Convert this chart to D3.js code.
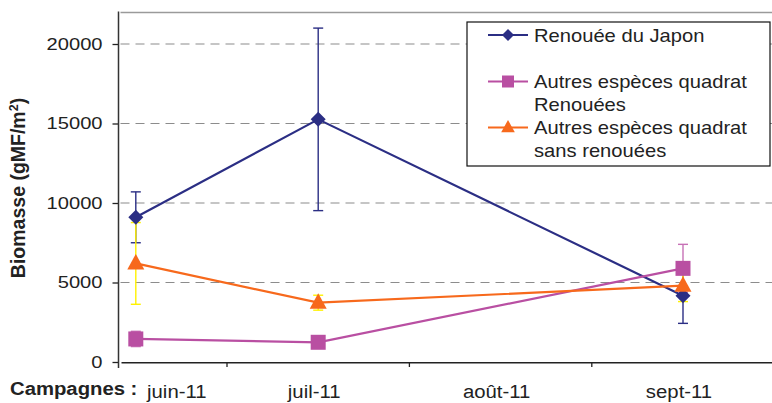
<!DOCTYPE html>
<html>
<head>
<meta charset="utf-8">
<script src="https://cdn.jsdelivr.net/npm/d3@7/dist/d3.min.js"></script>
<style>
  html, body { margin: 0; padding: 0; background: #fff; }
  svg { display: block; font-family: "Liberation Sans", Arial, sans-serif; }
</style>
</head>
<body>
<svg id="chart" width="772" height="403"></svg>
<script>
// Campaign months
const categories = ["juin-11", "juil-11", "août-11", "sept-11"];

// Biomass (gMF/m²) per campaign; null = no sampling that month
const renoueeJapon     = [9100, 15260, null, 4170];
const renoueeJaponErr  = [1600, 5740, null, 1740];
const autresRenouees    = [1450, 1240, null, 5890];
const autresRenoueesErr = [480, 300, null, 1510];
const autresSans        = [6200, 3730, null, 4800];
const autresSansErr     = [2570, 470, null, 1000];

const yTicks = [0, 5000, 10000, 15000, 20000];

const series = [
  { name: ["Renouée du Japon"], values: renoueeJapon, errors: renoueeJaponErr,
    color: "#2B2E84", errColor: "#2B2E84", marker: "diamond" },
  { name: ["Autres espèces quadrat", "Renouées"], values: autresRenouees, errors: autresRenoueesErr,
    color: "#B94FA2", errColor: "#C771B6", marker: "square" },
  { name: ["Autres espèces quadrat", "sans renouées"], values: autresSans, errors: autresSansErr,
    color: "#F7691C", errColor: "#FFF200", marker: "triangle" }
];

const svg = d3.select("#chart");

// Layout
const axisX = 118.5;       // vertical axis position
const plotRight = 772;
const plotTop = 12.5;

const x = d3.scaleBand().domain(categories).range([44.6, 774.2]).paddingInner(0).paddingOuter(0);
const cx = c => x(c) + x.bandwidth() / 2;
const y = d3.scaleLinear().domain([0, 22000]).range([362, 12.2]);

const font = "'Liberation Sans', Arial, sans-serif";

// Top border of plot area
svg.append("line")
  .attr("x1", axisX + 2).attr("x2", plotRight)
  .attr("y1", plotTop).attr("y2", plotTop)
  .attr("stroke", "#9a9a9a").attr("stroke-width", 1.5);

// Dashed horizontal gridlines
svg.append("g").selectAll("line")
  .data(yTicks.filter(d => d > 0))
  .join("line")
  .attr("x1", axisX + 2).attr("x2", plotRight)
  .attr("y1", d => y(d)).attr("y2", d => y(d))
  .attr("stroke", "#8c8c8c").attr("stroke-width", 1.2)
  .attr("stroke-dasharray", "9,6");

// Y axis
const yAxis = svg.append("g")
  .attr("transform", `translate(${axisX},0)`)
  .call(d3.axisLeft(y).tickValues(yTicks).tickSize(6).tickPadding(0).tickFormat(d3.format("d")));
yAxis.select(".domain").remove();
yAxis.selectAll(".tick line").attr("stroke", "#222").attr("stroke-width", 1.3);
yAxis.selectAll(".tick text")
  .attr("x", null)
  .attr("transform", "translate(-16,0) scale(1.22,1)")
  .attr("font-family", font).attr("font-size", 16.5).attr("fill", "#222");
svg.append("line")
  .attr("x1", axisX).attr("x2", axisX)
  .attr("y1", plotTop - 1).attr("y2", 368)
  .attr("stroke", "#333").attr("stroke-width", 1.5);

// X axis: baseline plus ticks on category boundaries
svg.append("line")
  .attr("x1", axisX + 3).attr("x2", plotRight)
  .attr("y1", y(0) + 0.7).attr("y2", y(0) + 0.7)
  .attr("stroke", "#222").attr("stroke-width", 1.5);
svg.append("g").selectAll("line")
  .data(categories.slice(1))
  .join("line")
  .attr("x1", d => x(d)).attr("x2", d => x(d))
  .attr("y1", y(0)).attr("y2", y(0) + 5)
  .attr("stroke", "#222").attr("stroke-width", 1.3);

// Category labels (first one nudged clear of the "Campagnes :" caption)
svg.append("g").selectAll("text")
  .data(categories)
  .join("text")
  .attr("transform", (d, i) => `translate(${cx(d) + (i === 0 ? 41 : -4)},398) scale(1.13,1)`)
  .attr("text-anchor", "middle")
  .attr("font-family", font).attr("font-size", 18).attr("fill", "#222")
  .text(d => d);

svg.append("text")
  .attr("transform", "translate(10,395) scale(1.16,1)")
  .attr("font-family", font).attr("font-size", 17.5).attr("font-weight", "bold").attr("fill", "#222")
  .text("Campagnes :");

// Y axis title
const yTitle = svg.append("text")
  .attr("transform", "translate(24.5,188) rotate(-90)")
  .attr("text-anchor", "middle")
  .attr("font-family", font).attr("font-size", 19.5).attr("font-weight", "bold").attr("fill", "#222");
yTitle.append("tspan").text("Biomasse (gMF/m");
yTitle.append("tspan").attr("dy", -7).attr("font-size", 12.5).text("2");
yTitle.append("tspan").attr("dy", 7).text(")");

// Marker shapes
function markerPath(kind) {
  if (kind === "diamond") return "M0,-7.5L7.5,0L0,7.5L-7.5,0Z";
  if (kind === "square") return "M-7.5,-7.5H7.5V7.5H-7.5Z";
  return "M0,-9.5L8.5,6H-8.5Z";
}

const line = d3.line()
  .defined(d => d.v != null)
  .x(d => cx(d.c))
  .y(d => y(d.v));

const pts = s => categories.map((c, i) => ({ c, v: s.values[i], e: s.errors[i] }));

// Connecting lines (months without data are skipped)
series.forEach(s => {
  svg.append("path")
    .datum(pts(s).filter(d => d.v != null))
    .attr("d", line)
    .attr("fill", "none")
    .attr("stroke", s.color).attr("stroke-width", 2.2);
});

// Error bars
series.forEach(s => {
  const g = svg.append("g").attr("stroke", s.errColor).attr("stroke-width", 1.4);
  pts(s).filter(d => d.v != null).forEach(d => {
    const px = cx(d.c);
    g.append("line").attr("x1", px).attr("x2", px).attr("y1", y(d.v - d.e)).attr("y2", y(d.v + d.e));
    g.append("line").attr("x1", px - 5).attr("x2", px + 5).attr("y1", y(d.v - d.e)).attr("y2", y(d.v - d.e));
    g.append("line").attr("x1", px - 5).attr("x2", px + 5).attr("y1", y(d.v + d.e)).attr("y2", y(d.v + d.e));
  });
});

// Markers
series.forEach(s => {
  svg.append("g").selectAll("path")
    .data(pts(s).filter(d => d.v != null))
    .join("path")
    .attr("d", markerPath(s.marker))
    .attr("transform", d => `translate(${cx(d.c)},${y(d.v)})`)
    .attr("fill", s.color);
});

// Legend
const legend = svg.append("g");
legend.append("rect")
  .attr("x", 467).attr("y", 22).attr("width", 303).attr("height", 144)
  .attr("fill", "#fff").attr("stroke", "#111").attr("stroke-width", 1.2);
const rowY = [35, 81.5, 127.5];
series.forEach((s, i) => {
  const gy = rowY[i];
  legend.append("line").attr("x1", 488).attr("x2", 528).attr("y1", gy).attr("y2", gy)
    .attr("stroke", s.color).attr("stroke-width", 2.2);
  legend.append("path").attr("d", markerPath(s.marker))
    .attr("transform", `translate(508,${gy}) scale(0.8)`).attr("fill", s.color);
  s.name.forEach((t, j) => {
    legend.append("text")
      .attr("transform", `translate(534,${gy + 6.5 + j * 23}) scale(1.12,1)`)
      .attr("font-family", font).attr("font-size", 18).attr("fill", "#222")
      .text(t);
  });
});
</script>
</body>
</html>
